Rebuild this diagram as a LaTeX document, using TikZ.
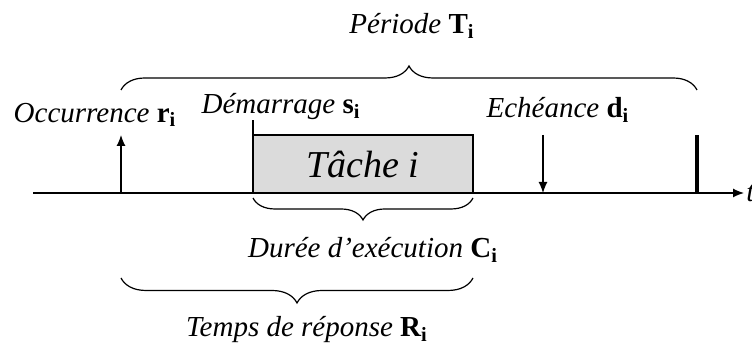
\documentclass[tikz,border=0pt]{standalone}
\usepackage{fontspec}
\setmainfont{Liberation Serif}
\usetikzlibrary{arrows.meta,decorations.pathreplacing}

\tikzset{every picture/.append style={x=0.5pt,y=0.5pt}}
\tikzset{
  lbl/.style={font=\fontsize{14.5}{16}\selectfont},
  tick/.style={line width=0.6pt},
  arr/.style={line width=0.6pt,-{Latex[length=5.5pt,width=4.5pt]}},
  accol/.style={line width=0.6pt,decorate,decoration={brace,amplitude=#1}}
}

\begin{document}
\begin{tikzpicture}
  \useasboundingbox (0,0) rectangle (752,351);
  % axe du temps
  \coordinate (a0) at (33,158);
  \coordinate (a1) at (744,158);
  \draw[arr] (a0) -- (a1);
  \node[lbl,anchor=west,inner sep=1pt] (t) at (a1){\textit{t}};
  % instants
  \coordinate (r) at (121,158);
  \coordinate (rtop) at (121,216);
  \coordinate (s) at (253,158);
  \coordinate (stop) at (253,231);
  \coordinate (f) at (473,216);
  \coordinate (d) at (543,158);
  \coordinate (dtop) at (543,216);
  \coordinate (p) at (697,158);
  \coordinate (ptop) at (697,216);
  \draw[arr] (r) -- (rtop);
  \draw[arr] (dtop) -- (d);
  \draw[line width=1.8pt] (p) -- (ptop);
  % tache
  \draw[tick,fill=gray!28] (s) rectangle (f);
  \draw[tick] (s) -- (stop);
  \node[font=\fontsize{19}{21}\selectfont] (tache) at (363,187){\textit{Tâche i}};
  % textes
  \node[lbl] (occ) at (95,236){\textit{Occurrence} \textbf{r\textsubscript{i}}};
  \node[lbl] (dem) at (281,244){\textit{Démarrage} \textbf{s\textsubscript{i}}};
  \node[lbl] (ech) at (558,241){\textit{Echéance} \textbf{d\textsubscript{i}}};
  % accolades
  \coordinate (b1) at (121,261);
  \coordinate (b2) at (697,261);
  \draw[accol=12pt] (b1) -- (b2);
  \node[lbl] (per) at (412,325){\textit{Période} \textbf{T\textsubscript{i}}};
  \coordinate (c1) at (473,153);
  \coordinate (c2) at (253,153);
  \draw[accol=11pt] (c1) -- (c2);
  \node[lbl] (dur) at (373,101){\textit{Durée d’exécution} \textbf{C\textsubscript{i}}};
  \coordinate (e1) at (473,73);
  \coordinate (e2) at (121,73);
  \draw[accol=12.5pt] (e1) -- (e2);
  \node[lbl] (rep) at (307,21){\textit{Temps de réponse} \textbf{R\textsubscript{i}}};
\end{tikzpicture}
\end{document}
